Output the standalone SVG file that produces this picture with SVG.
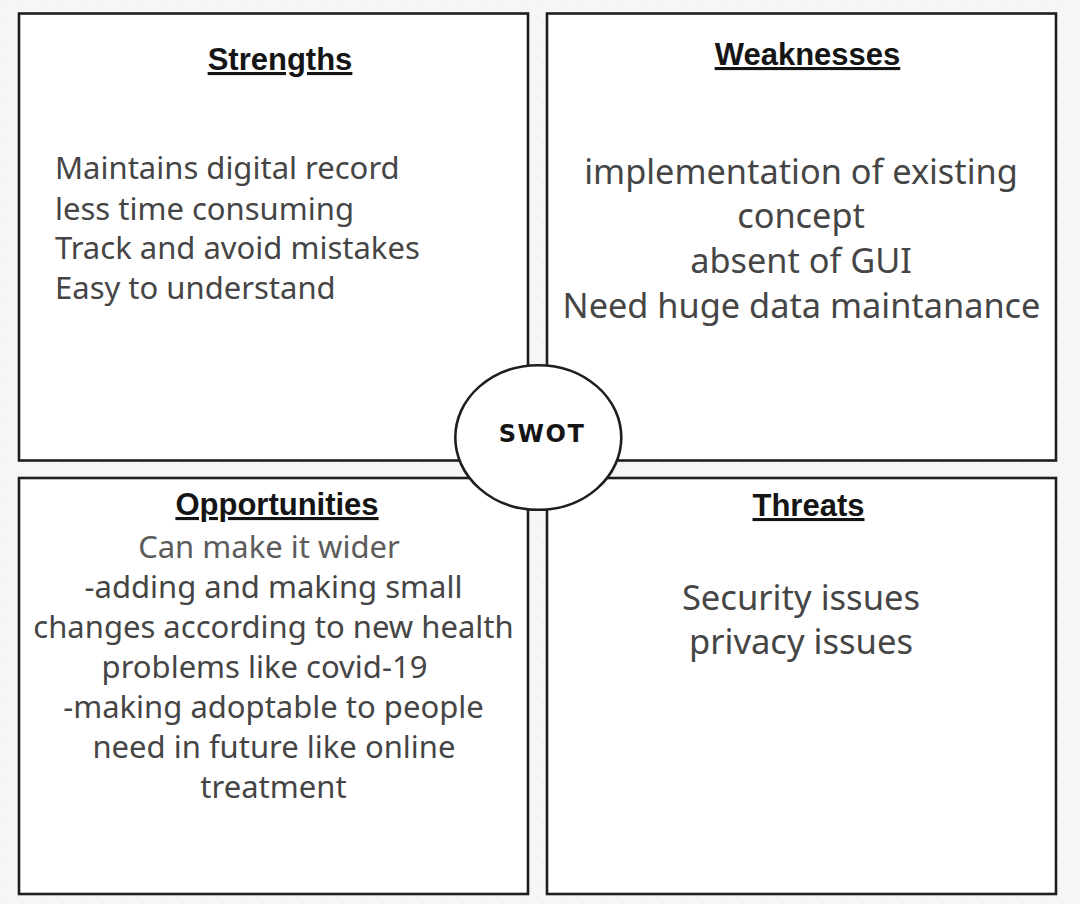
<svg xmlns="http://www.w3.org/2000/svg" width="1080" height="904" viewBox="0 0 1080 904">
<defs>
<style>
.box{fill:#ffffff;stroke:#1e1e1e;stroke-width:2.6}
.title{font-family:"Liberation Sans",Arial,sans-serif;font-weight:bold;font-size:31px;fill:#151515;text-decoration:underline;text-anchor:middle}
.body{font-family:"Noto Sans","Open Sans",sans-serif;fill:#454545}
.mid{text-anchor:middle}
</style>
<pattern id="dots" width="20" height="20" patternUnits="userSpaceOnUse">
<circle cx="3" cy="3" r="0.8" fill="#e2e2e8"/>
</pattern>
</defs>
<rect x="0" y="0" width="1080" height="904" fill="#f6f6f9"/>
<rect x="0" y="0" width="1080" height="904" fill="url(#dots)"/>

<g id="strengths">
<rect class="box" x="19" y="13.5" width="509" height="447"/>
<text class="title" x="280" y="70">Strengths</text>
<text class="body" font-size="31">
<tspan x="55" y="179">Maintains digital record</tspan>
<tspan x="55" y="219.5">less time consuming</tspan>
<tspan x="55" y="259">Track and avoid mistakes</tspan>
<tspan x="55" y="298.5">Easy to understand</tspan>
</text>
</g>

<g id="weaknesses">
<rect class="box" x="547" y="13.5" width="509" height="447"/>
<text class="title" x="807.5" y="65">Weaknesses</text>
<text class="body mid" font-size="34.3">
<tspan x="805.5" y="184">implementation of existing</tspan>
<tspan x="805.5" y="228">concept</tspan>
<tspan x="805.5" y="273">absent of GUI</tspan>
<tspan x="801.5" y="317.5">Need huge data maintanance</tspan>
</text>
</g>

<g id="opportunities">
<rect class="box" x="19" y="478" width="509" height="416"/>
<text class="title" x="277" y="515">Opportunities</text>
<text class="body mid" font-size="31">
<tspan x="273" y="558" fill="#5c5c5c">Can make it wider</tspan>
<tspan x="277.5" y="598">-adding and making small</tspan>
<tspan x="277.5" y="638">changes according to new health</tspan>
<tspan x="268.5" y="678">problems like covid-19</tspan>
<tspan x="277.5" y="718">-making adoptable to people</tspan>
<tspan x="278" y="758">need in future like online</tspan>
<tspan x="273.5" y="798">treatment</tspan>
</text>
</g>

<g id="threats">
<rect class="box" x="547" y="478" width="509" height="416"/>
<text class="title" x="808.5" y="516">Threats</text>
<text class="body mid" font-size="34.6">
<tspan x="805.5" y="610">Security issues</tspan>
<tspan x="801" y="654">privacy issues</tspan>
</text>
</g>

<g id="connectors"></g>

<g id="swot">
<ellipse cx="538.3" cy="437.5" rx="83" ry="72.3" fill="#ffffff" stroke="#1e1e1e" stroke-width="2.6"/>
<text x="542" y="441.5" font-family="'DejaVu Sans',Verdana,sans-serif" font-weight="bold" font-size="24" letter-spacing="1.5" fill="#151515" text-anchor="middle">SWOT</text>
</g>
</svg>
